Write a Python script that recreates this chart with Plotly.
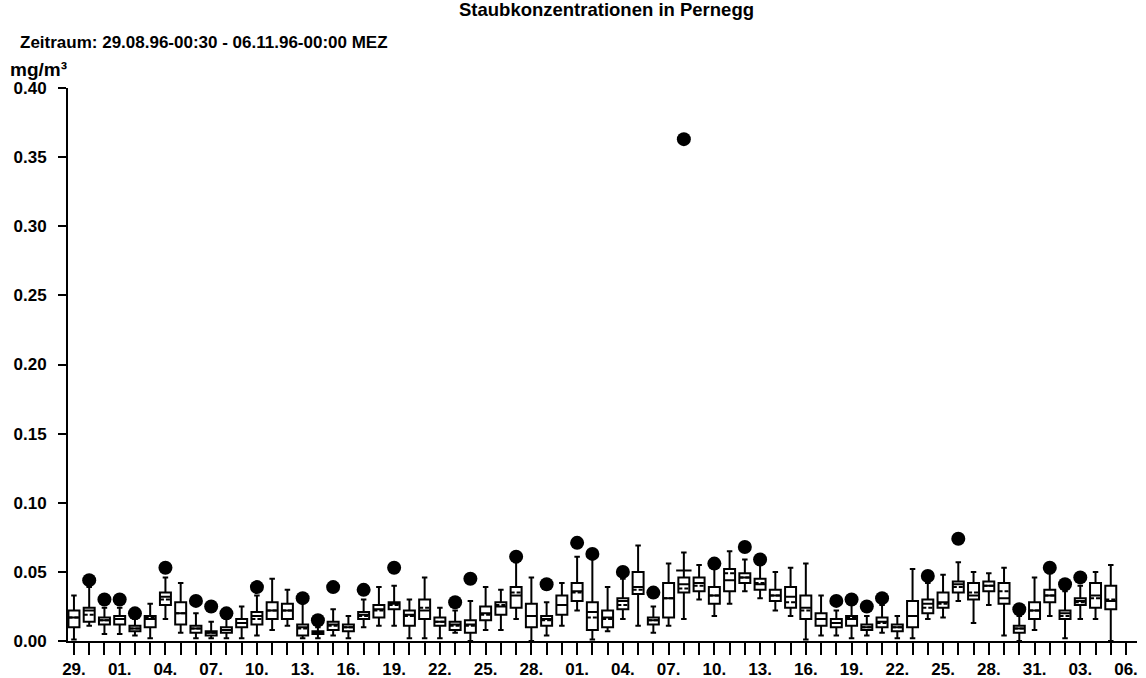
import plotly.graph_objects as go

# day labels (29.08.96 .. 05.11.96) plus final tick 06.
days = ["29.08","30.08","31.08","01.09","02.09","03.09","04.09","05.09","06.09","07.09",
        "08.09","09.09","10.09","11.09","12.09","13.09","14.09","15.09","16.09","17.09",
        "18.09","19.09","20.09","21.09","22.09","23.09","24.09","25.09","26.09","27.09",
        "28.09","29.09","30.09","01.10","02.10","03.10","04.10","05.10","06.10","07.10",
        "08.10","09.10","10.10","11.10","12.10","13.10","14.10","15.10","16.10","17.10",
        "18.10","19.10","20.10","21.10","22.10","23.10","24.10","25.10","26.10","27.10",
        "28.10","29.10","30.10","31.10","01.11","02.11","03.11","04.11","05.11"]
tick_labels = ["29.","","","01.","","","04.","","","07.","","","10.","","","13.","","","16.","","",
               "19.","","","22.","","","25.","","","28.","","","01.","","","04.","","","07.","","",
               "10.","","","13.","","","16.","","","19.","","","22.","","","25.","","","28.","","",
               "31.","","","03.","","","06."]

lo = [0.001,0.011,0.005,0.005,0.004,0.002,0.016,0.006,0.002,0.002,
      0.002,0.002,0.004,0.008,0.011,0.002,0.002,0.004,0.002,0.010,
      0.011,0.011,0.002,0.002,0.002,0.006,0.000,0.008,0.008,0.016,
      0.000,0.004,0.011,0.022,0.001,0.007,0.016,0.011,0.006,0.011,
      0.016,0.030,0.018,0.027,0.036,0.031,0.022,0.018,0.001,0.004,
      0.004,0.002,0.004,0.006,0.002,0.002,0.016,0.017,0.029,0.013,
      0.026,0.004,0.000,0.008,0.018,0.002,0.016,0.016,0.000]
q1 = [0.010,0.014,0.012,0.012,0.007,0.010,0.026,0.012,0.006,0.004,
      0.006,0.010,0.012,0.016,0.016,0.004,0.005,0.008,0.007,0.016,
      0.017,0.023,0.011,0.016,0.011,0.008,0.006,0.015,0.019,0.024,
      0.010,0.011,0.019,0.029,0.008,0.010,0.023,0.034,0.012,0.017,
      0.035,0.036,0.027,0.036,0.042,0.037,0.029,0.024,0.016,0.011,
      0.010,0.011,0.008,0.010,0.007,0.010,0.020,0.024,0.035,0.030,
      0.036,0.027,0.006,0.016,0.028,0.016,0.026,0.024,0.023]
med = [0.017,0.022,0.015,0.016,0.009,0.016,0.032,0.020,0.009,0.006,
       0.008,0.013,0.018,0.022,0.022,0.010,0.006,0.012,0.010,0.019,
       0.023,0.027,0.019,0.022,0.014,0.012,0.012,0.020,0.025,0.033,
       0.018,0.016,0.026,0.036,0.021,0.017,0.029,0.039,0.015,0.031,
       0.041,0.042,0.033,0.044,0.046,0.041,0.033,0.032,0.024,0.016,
       0.013,0.016,0.010,0.014,0.010,0.018,0.027,0.028,0.041,0.033,
       0.040,0.031,0.009,0.022,0.033,0.020,0.029,0.033,0.029]
q3 = [0.022,0.024,0.017,0.018,0.011,0.018,0.035,0.028,0.011,0.007,
      0.010,0.016,0.021,0.028,0.027,0.012,0.007,0.014,0.012,0.021,
      0.026,0.028,0.022,0.030,0.017,0.014,0.015,0.025,0.028,0.039,
      0.027,0.018,0.033,0.042,0.028,0.022,0.031,0.050,0.017,0.042,
      0.046,0.046,0.039,0.052,0.049,0.045,0.037,0.039,0.033,0.020,
      0.016,0.018,0.012,0.017,0.012,0.029,0.030,0.035,0.043,0.042,
      0.043,0.042,0.011,0.028,0.037,0.022,0.031,0.042,0.040]
hi = [0.033,0.039,0.024,0.024,0.016,0.027,0.046,0.042,0.020,0.014,
      0.016,0.025,0.033,0.045,0.037,0.028,0.010,0.023,0.018,0.030,
      0.039,0.040,0.030,0.046,0.024,0.022,0.029,0.039,0.037,0.057,
      0.046,0.028,0.042,0.061,0.060,0.039,0.045,0.069,0.025,0.056,
      0.064,0.055,0.052,0.065,0.059,0.055,0.050,0.053,0.056,0.033,
      0.022,0.026,0.018,0.026,0.018,0.052,0.042,0.048,0.057,0.050,
      0.049,0.053,0.018,0.046,0.049,0.036,0.040,0.050,0.055]
mean = [0.017,0.019,0.015,0.016,0.009,0.017,0.030,0.020,0.009,0.006,
        0.008,0.013,0.016,0.022,0.022,0.009,0.006,0.011,0.010,0.018,
        0.022,0.026,0.018,0.024,0.014,0.011,0.011,0.019,0.026,0.035,
        0.018,0.015,0.026,0.035,0.017,0.016,0.026,0.037,0.015,0.031,
        0.038,0.040,0.033,0.049,0.046,0.042,0.033,0.028,0.022,0.016,
        0.013,0.017,0.010,0.013,0.010,0.018,0.024,0.027,0.039,0.035,
        0.040,0.036,0.009,0.022,0.033,0.018,0.028,0.031,0.030]

# maximum values plotted as dots (day index, value)
out_day = [1,2,3,4,6,8,9,10,12,15,16,17,19,21,25,26,29,31,33,34,36,38,40,42,44,45,
           50,51,52,53,56,58,62,64,65,66]
out_val = [0.044,0.030,0.030,0.020,0.053,0.029,0.025,0.020,0.039,0.031,0.015,0.039,0.037,
           0.053,0.028,0.045,0.061,0.041,0.071,0.063,0.050,0.035,0.363,0.056,0.068,0.059,
           0.029,0.030,0.025,0.031,0.047,0.074,0.023,0.053,0.041,0.046]
extra_day = [40]
extra_val = [0.051]

x_idx = list(range(len(days)))
FONT = "Liberation Sans, Arial, sans-serif"

fig = go.Figure()
fig.add_trace(go.Box(
    x=x_idx, q1=q1, median=med, q3=q3, lowerfence=lo, upperfence=hi, mean=mean,
    boxmean=True, boxpoints=False, width=0.72, whiskerwidth=0.5,
    fillcolor="white", line=dict(color="black", width=2), name="", showlegend=False,
    hoverinfo="skip"))
fig.add_trace(go.Scatter(
    x=out_day, y=out_val, mode="markers",
    marker=dict(color="black", size=14, symbol="circle", line=dict(width=0)),
    showlegend=False, hoverinfo="skip"))
fig.add_trace(go.Scatter(
    x=extra_day, y=extra_val, mode="markers",
    marker=dict(color="black", size=11, symbol="line-ew", line=dict(width=2, color="black")),
    showlegend=False, hoverinfo="skip"))

L, R, T, B = 68, 9, 88, 37
W, H = 1146, 678
pw = W - L - R
ph = H - T - B

def px(xp):
    return (xp - L) / pw

def py(yp):
    return (H - B - yp) / ph

fig.update_layout(
    width=W, height=H, margin=dict(l=L, r=R, t=T, b=B, pad=0),
    paper_bgcolor="white", plot_bgcolor="white",
    font=dict(family=FONT, color="black"),
    xaxis=dict(range=[-0.39, 69.72], tickmode="array", tickvals=list(range(70)),
               ticktext=tick_labels, ticks="outside", ticklen=12, tickwidth=2,
               tickcolor="black", showline=True, linecolor="black", linewidth=2,
               showgrid=False, zeroline=False, automargin=False,
               tickfont=dict(family=FONT, size=17, color="black", weight="bold")),
    yaxis=dict(range=[0, 0.40], tickmode="array",
               tickvals=[0, 0.05, 0.10, 0.15, 0.20, 0.25, 0.30, 0.35, 0.40],
               tickformat=".2f", ticks="outside", ticklen=8, tickwidth=2,
               tickcolor="black", showline=True, linecolor="black", linewidth=2,
               showgrid=False, zeroline=False, ticklabelstandoff=8, automargin=False,
               tickfont=dict(family=FONT, size=17, color="black", weight="bold")),
    annotations=[
        dict(text="Staubkonzentrationen in Pernegg", xref="paper", yref="paper",
             x=px(606), y=py(9), xanchor="center", yanchor="middle", showarrow=False,
             font=dict(family=FONT, size=18.5, color="black", weight="bold")),
        dict(text="Zeitraum: 29.08.96-00:30 - 06.11.96-00:00 MEZ", xref="paper", yref="paper",
             x=px(18), y=py(43), xanchor="left", yanchor="middle", showarrow=False,
             font=dict(family=FONT, size=17, color="black", weight="bold")),
        dict(text="mg/m³", xref="paper", yref="paper",
             x=px(8), y=py(70), xanchor="left", yanchor="middle", showarrow=False,
             font=dict(family=FONT, size=19, color="black", weight="bold")),
    ],
)

fig.write_html("out.html")
